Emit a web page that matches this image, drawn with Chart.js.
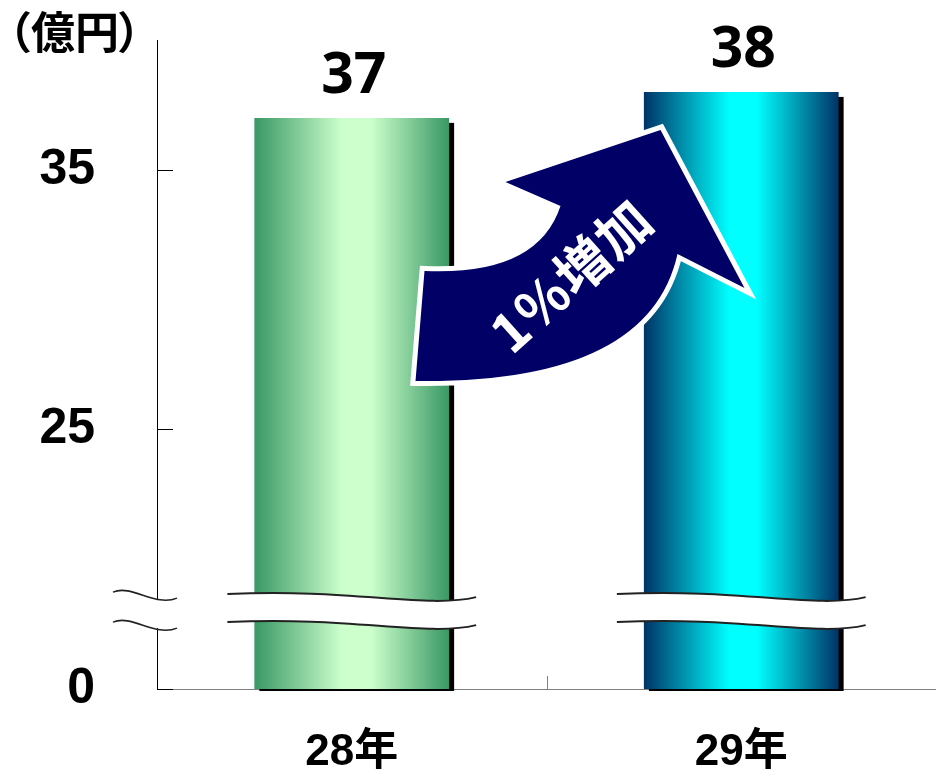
<!DOCTYPE html>
<html>
<head>
<meta charset="utf-8">
<script src="https://cdn.jsdelivr.net/npm/chart.js@4"></script>
<style>
  html, body { margin: 0; padding: 0; background: #fff; }
  canvas { display: block; }
</style>
</head>
<body>
<canvas id="c" width="936" height="771"></canvas>
<script>
// ---- data ----
const categories = ['28年', '29年'];
const values = [37, 38];
const axisMin = 15;            // value drawn at the broken origin (labelled "0")
const axisMax = 40;
const tickValues = [15, 25, 35];
const tickLabels = ['0', '25', '35'];
const breakValue = 18;         // where the axis break sits
const unitLabel = ['（', '億円', '）'];
const growthText = '1%増加';

// ---- styles ----
const barGradients = [
  [[0, '#389864'], [0.45, '#ccffcc'], [0.6, '#ccffcc'], [1, '#389864']],
  [[0, '#003366'], [0.44, '#00ffff'], [0.58, '#00ffff'], [1, '#003366']]
];
const NUM_FONT = '"Liberation Sans", "Noto Sans CJK JP", sans-serif';
const CJK_FONT = '"Noto Sans CJK JP", "Liberation Sans", sans-serif';

function barGradient(c) {
  const chart = c.chart;
  const xs = chart.scales.x;
  if (!xs || !chart.chartArea) return barGradients[c.dataIndex][1][1];
  const cx = xs.getPixelForValue(c.dataIndex);
  const w = xs.width / categories.length * 0.5;
  const g = chart.ctx.createLinearGradient(cx - w / 2, 0, cx + w / 2, 0);
  barGradients[c.dataIndex].forEach(([o, col]) => g.addColorStop(o, col));
  return g;
}

function wave(ctx, L, R, yb, off, reverse) {
  const w = R - L;
  if (!reverse) {
    ctx.bezierCurveTo(L + 0.5 * w, yb - 23 + off, L + 0.8 * w, yb - 2 + off, R, yb - 14 + off);
  } else {
    ctx.bezierCurveTo(L + 0.8 * w, yb - 2 + off, L + 0.5 * w, yb - 23 + off, L, yb - 17 + off);
  }
}

const deco = {
  id: 'deco',
  beforeDatasetsDraw(chart) {
    const ctx = chart.ctx;
    const meta = chart.getDatasetMeta(0);
    const area = chart.chartArea;
    meta.data.forEach((bar) => {
      const left = bar.x - bar.width / 2;
      ctx.save();
      ctx.fillStyle = '#000';
      ctx.fillRect(left + 5, bar.y + 5, bar.width, area.bottom + 2 - bar.y - 5);
      ctx.restore();
    });
  },
  afterDatasetsDraw(chart) {
    const ctx = chart.ctx;
    const meta = chart.getDatasetMeta(0);
    const ys = chart.scales.y, xs = chart.scales.x;
    const area = chart.chartArea;
    const yb = ys.getPixelForValue(breakValue);

    // break bands over the bars
    meta.data.forEach((bar) => {
      const L = bar.x - bar.width / 2 - 27, R = bar.x + bar.width / 2 + 27;
      ctx.save();
      ctx.beginPath();
      ctx.moveTo(L, yb - 17);
      wave(ctx, L, R, yb, 0, false);
      ctx.lineTo(R, yb - 14 + 28);
      wave(ctx, L, R, yb, 28, true);
      ctx.closePath();
      ctx.fillStyle = '#fff';
      ctx.fill();
      ctx.strokeStyle = '#222';
      ctx.lineWidth = 2;
      ctx.beginPath();
      ctx.moveTo(L, yb - 17);
      wave(ctx, L, R, yb, 0, false);
      ctx.stroke();
      ctx.beginPath();
      ctx.moveTo(L, yb - 17 + 28);
      wave(ctx, L, R, yb, 28, false);
      ctx.stroke();
      ctx.restore();
    });

    // axis break on the y axis
    const ax = area.left;
    ctx.save();
    ctx.fillStyle = '#fff';
    ctx.fillRect(ax - 3, yb - 11, 6, 28);
    ctx.strokeStyle = '#222';
    ctx.lineWidth = 1.6;
    [0, 30].forEach(off => {
      ctx.beginPath();
      ctx.moveTo(ax - 44, yb - 19 + off);
      ctx.bezierCurveTo(ax - 25, yb - 27 + off, ax - 2, yb - 4 + off, ax + 20, yb - 13 + off);
      ctx.stroke();
    });
    ctx.restore();

    // y tick marks (inside)
    ctx.save();
    ctx.strokeStyle = '#000';
    ctx.lineWidth = 1;
    tickValues.forEach(v => {
      const py = Math.round(ys.getPixelForValue(v)) + 0.5;
      ctx.beginPath();
      ctx.moveTo(ax, py);
      ctx.lineTo(ax + 16, py);
      ctx.stroke();
    });
    // x category boundary tick
    const bx = Math.round((xs.getPixelForValue(0) + xs.getPixelForValue(1)) / 2) + 0.5;
    ctx.strokeStyle = '#808080';
    ctx.beginPath();
    ctx.moveTo(bx, area.bottom - 13);
    ctx.lineTo(bx, area.bottom);
    ctx.stroke();
    ctx.restore();

    // growth arrow (anchored between the two bars)
    const b0 = meta.data[0], b1 = meta.data[1];
    const ox = (b0.x + b1.x) / 2, oy = b0.y;
    const P = (dx, dy) => [ox + dx, oy + dy];
    ctx.save();
    ctx.beginPath();
    let p = P(-131, 263); ctx.moveTo(p[0], p[1]);
    p = P(-122, 153); ctx.lineTo(p[0], p[1]);
    let c = P(-9, 158); p = P(14, 88); ctx.quadraticCurveTo(c[0], c[1], p[0], p[1]);
    p = P(-41, 64); ctx.lineTo(p[0], p[1]);
    p = P(114, 12); ctx.lineTo(p[0], p[1]);
    p = P(198, 170); ctx.lineTo(p[0], p[1]);
    p = P(131, 136); ctx.lineTo(p[0], p[1]);
    c = P(102, 266); p = P(-131, 263); ctx.quadraticCurveTo(c[0], c[1], p[0], p[1]);
    ctx.closePath();
    ctx.lineJoin = 'miter';
    ctx.strokeStyle = '#fff';
    ctx.lineWidth = 10;
    ctx.stroke();
    ctx.fillStyle = '#000066';
    ctx.fill();

    // arrow text
    const tc = P(24, 158);
    ctx.translate(tc[0], tc[1]);
    ctx.rotate(-42 * Math.PI / 180);
    ctx.fillStyle = '#fff';
    ctx.font = 'bold 54px ' + CJK_FONT;
    ctx.textBaseline = 'middle';
    ctx.textAlign = 'left';
    const chars = Array.from(growthText);
    const gap = 1;
    const widths = chars.map(ch => ctx.measureText(ch).width);
    const total = widths.reduce((a, b) => a + b, 0) + gap * (chars.length - 1);
    let xpos = -total / 2;
    chars.forEach((ch, k) => {
      ctx.fillText(ch, xpos, 0);
      xpos += widths[k] + gap;
    });
    ctx.restore();

    // value labels
    ctx.save();
    ctx.fillStyle = '#000';
    ctx.font = 'bold 57px "Noto Sans", "Liberation Sans", sans-serif';
    ctx.textAlign = 'center';
    ctx.textBaseline = 'alphabetic';
    meta.data.forEach((bar, i) => {
      ctx.fillText(String(values[i]), bar.x + 2, bar.y - 25);
    });
    ctx.restore();

    // unit label
    ctx.save();
    ctx.fillStyle = '#000';
    ctx.font = 'bold 44px ' + CJK_FONT;
    ctx.textBaseline = 'middle';
    ctx.textAlign = 'left';
    const uy = 32;
    let m = ctx.measureText(unitLabel[0]);
    ctx.fillText(unitLabel[0], 17 + m.actualBoundingBoxLeft, uy);
    m = ctx.measureText(unitLabel[1]);
    ctx.fillText(unitLabel[1], 31 + m.actualBoundingBoxLeft, uy);
    m = ctx.measureText(unitLabel[2]);
    ctx.fillText(unitLabel[2], 132 - m.actualBoundingBoxRight, uy);
    ctx.restore();
  }
};

new Chart(document.getElementById('c'), {
  type: 'bar',
  data: {
    labels: categories,
    datasets: [{
      data: values,
      base: axisMin,
      backgroundColor: barGradient,
      borderWidth: 0,
      barPercentage: 1,
      categoryPercentage: 0.5
    }]
  },
  options: {
    responsive: false,
    animation: false,
    devicePixelRatio: 1,
    layout: { padding: { top: 40, left: 0, right: 0, bottom: 0 } },
    plugins: { legend: { display: false }, tooltip: { enabled: false } },
    scales: {
      x: {
        offset: true,
        grid: { display: false, drawTicks: false },
        border: { display: true, color: '#808080', width: 1 },
        ticks: {
          padding: 37,
          color: '#000',
          font: { family: NUM_FONT, size: 44, weight: 'bold' },
          maxRotation: 0
        },
        afterFit(s) { s.height = 82; s.paddingLeft = 0; s.paddingRight = 0; }
      },
      y: {
        min: axisMin,
        max: axisMax,
        grid: { display: false, drawTicks: false },
        border: { display: true, color: '#000', width: 1 },
        afterBuildTicks(s) { s.ticks = tickValues.map(v => ({ value: v })); },
        ticks: {
          padding: 62,
          color: '#000',
          font: { family: NUM_FONT, size: 50, weight: 'bold' },
          callback(v) { const i = tickValues.indexOf(v); return i >= 0 ? tickLabels[i] : ''; }
        },
        afterFit(s) { s.width = 157; s.paddingTop = 0; s.paddingBottom = 0; }
      }
    }
  },
  plugins: [deco]
});
</script>
</body>
</html>
